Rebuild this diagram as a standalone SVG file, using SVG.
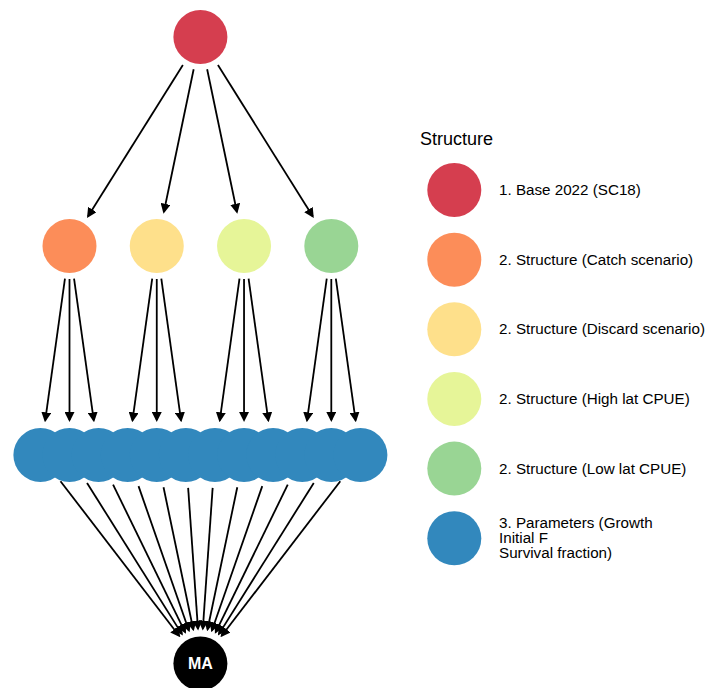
<svg xmlns="http://www.w3.org/2000/svg" width="708" height="688" viewBox="0 0 708 688">
<style>
.e{stroke:#000;stroke-width:1.8;fill:none;marker-end:url(#ah)}
.t{font-family:"Liberation Sans",Arial,sans-serif;font-size:15.2px;fill:#000}
.c1{fill:#D53E4F}.c2{fill:#FC8D59}.c3{fill:#FEE08B}.c4{fill:#E6F598}.c5{fill:#99D594}.c6{fill:#3288BD}
</style>
<defs>
<marker id="ah" markerUnits="userSpaceOnUse" markerWidth="10" markerHeight="10" refX="8" refY="5" orient="auto" viewBox="0 0 10 10">
<path d="M0,0 L10,5 L0,10 z" fill="#000"/>
</marker>
</defs>
<rect width="708" height="688" fill="#fff"/>
<g id="connectors">
<line class="e" x1="182.88" y1="64.97" x2="88.08" y2="216.34"/>
<line class="e" x1="193.66" y1="69.30" x2="163.91" y2="211.74"/>
<line class="e" x1="207.15" y1="69.30" x2="236.89" y2="211.74"/>
<line class="e" x1="217.92" y1="64.97" x2="312.72" y2="216.34"/>

<line class="e" x1="64.95" y1="278.69" x2="45.23" y2="420.33"/>
<line class="e" x1="69.5" y1="279" x2="69.5" y2="420"/>
<line class="e" x1="74.05" y1="278.69" x2="93.76" y2="420.33"/>
<line class="e" x1="152.21" y1="278.69" x2="132.50" y2="420.33"/>
<line class="e" x1="156.76" y1="279" x2="156.76" y2="420"/>
<line class="e" x1="161.31" y1="278.69" x2="181.03" y2="420.33"/>
<line class="e" x1="239.49" y1="278.69" x2="219.78" y2="420.33"/>
<line class="e" x1="244.04" y1="279" x2="244.04" y2="420"/>
<line class="e" x1="248.59" y1="278.69" x2="268.31" y2="420.33"/>
<line class="e" x1="326.75" y1="278.69" x2="307.05" y2="420.33"/>
<line class="e" x1="331.3" y1="279" x2="331.3" y2="420"/>
<line class="e" x1="335.85" y1="278.69" x2="355.58" y2="420.33"/>

<line class="e" x1="60.49" y1="481.18" x2="179.09" y2="635.73"/>
<line class="e" x1="87.04" y1="482.95" x2="181.79" y2="633.86"/>
<line class="e" x1="113.06" y1="484.65" x2="185.04" y2="632.05"/>
<line class="e" x1="138.54" y1="486.16" x2="188.87" y2="630.45"/>
<line class="e" x1="163.52" y1="487.30" x2="193.23" y2="629.24"/>
<line class="e" x1="188.15" y1="487.92" x2="197.96" y2="628.58"/>
<line class="e" x1="212.65" y1="487.92" x2="202.84" y2="628.58"/>
<line class="e" x1="237.28" y1="487.30" x2="207.57" y2="629.24"/>
<line class="e" x1="262.26" y1="486.16" x2="211.93" y2="630.45"/>
<line class="e" x1="287.74" y1="484.65" x2="215.76" y2="632.05"/>
<line class="e" x1="313.76" y1="482.95" x2="219.01" y2="633.86"/>
<line class="e" x1="340.31" y1="481.18" x2="221.71" y2="635.73"/>
</g>
<g id="n_base"><circle class="c1" cx="200.4" cy="37" r="27"/></g>
<g id="n_catch"><circle class="c2" cx="69.5" cy="246" r="27"/></g>
<g id="n_discard"><circle class="c3" cx="156.76" cy="246" r="27"/></g>
<g id="n_highlat"><circle class="c4" cx="244.04" cy="246" r="27"/></g>
<g id="n_lowlat"><circle class="c5" cx="331.3" cy="246" r="27"/></g>
<g id="n_p1"><circle class="c6" cx="40.4" cy="455" r="27"/></g>
<g id="n_p2"><circle class="c6" cx="69.49" cy="455" r="27"/></g>
<g id="n_p3"><circle class="c6" cx="98.58" cy="455" r="27"/></g>
<g id="n_p4"><circle class="c6" cx="127.67" cy="455" r="27"/></g>
<g id="n_p5"><circle class="c6" cx="156.76" cy="455" r="27"/></g>
<g id="n_p6"><circle class="c6" cx="185.85" cy="455" r="27"/></g>
<g id="n_p7"><circle class="c6" cx="214.95" cy="455" r="27"/></g>
<g id="n_p8"><circle class="c6" cx="244.04" cy="455" r="27"/></g>
<g id="n_p9"><circle class="c6" cx="273.13" cy="455" r="27"/></g>
<g id="n_p10"><circle class="c6" cx="302.22" cy="455" r="27"/></g>
<g id="n_p11"><circle class="c6" cx="331.31" cy="455" r="27"/></g>
<g id="n_p12"><circle class="c6" cx="360.4" cy="455" r="27"/></g>
<g id="n_ma"><circle cx="200.4" cy="663.5" r="27" fill="#000"/>
<text x="200.4" y="669.3" text-anchor="middle" font-family="'Liberation Sans',Arial,sans-serif" font-weight="bold" font-size="16" fill="#fff">MA</text></g>
<g id="legend">
<text x="420" y="145" font-family="'Liberation Sans',Arial,sans-serif" font-size="18" fill="#000">Structure</text>
<circle class="c1" cx="454.3" cy="190" r="27"/>
<text class="t" x="499" y="195">1. Base 2022 (SC18)</text>
<circle class="c2" cx="454.3" cy="259.7" r="27"/>
<text class="t" x="499" y="264.7">2. Structure (Catch scenario)</text>
<circle class="c3" cx="454.3" cy="329.3" r="27"/>
<text class="t" x="499" y="334.3">2. Structure (Discard scenario)</text>
<circle class="c4" cx="454.3" cy="399" r="27"/>
<text class="t" x="499" y="404">2. Structure (High lat CPUE)</text>
<circle class="c5" cx="454.3" cy="468.6" r="27"/>
<text class="t" x="499" y="473.6">2. Structure (Low lat CPUE)</text>
<circle class="c6" cx="454.3" cy="538.3" r="27"/>
<text class="t" x="499" y="528.3">3. Parameters (Growth</text>
<text class="t" x="499" y="543.3">Initial F</text>
<text class="t" x="499" y="558.3">Survival fraction)</text>
</g>
</svg>
